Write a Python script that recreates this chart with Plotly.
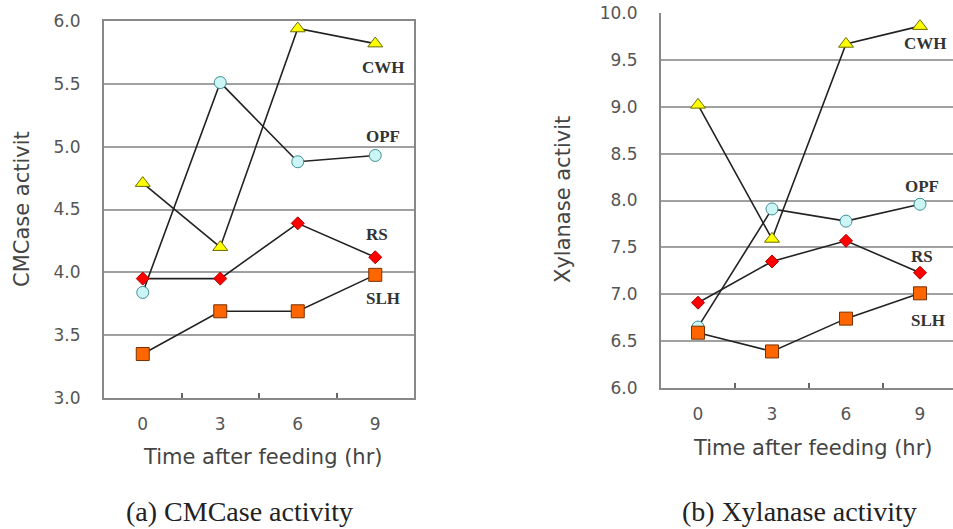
import plotly.graph_objects as go

times = ["0", "3", "6", "9"]
pos = [0, 1, 2, 3]

# (a) CMCase activity
cmc_cwh = [4.71, 4.20, 5.94, 5.82]
cmc_opf = [3.84, 5.51, 4.88, 4.93]
cmc_rs = [3.95, 3.95, 4.39, 4.12]
cmc_slh = [3.35, 3.69, 3.69, 3.98]

# (b) Xylanase activity
xyl_cwh = [9.02, 7.59, 9.67, 9.86]
xyl_opf = [6.65, 7.91, 7.78, 7.96]
xyl_rs = [6.91, 7.35, 7.57, 7.23]
xyl_slh = [6.59, 6.39, 6.74, 7.01]

series_names = ["CWH", "OPF", "RS", "SLH"]
styles = {
    "CWH": dict(symbol="triangle-up", size=13, color="#FFFF00", line=dict(color="#6b6b00", width=1)),
    "OPF": dict(symbol="circle", size=12, color="#CCF5F5", line=dict(color="#3f8f96", width=1)),
    "RS": dict(symbol="diamond", size=10, color="#FF0000", line=dict(color="#b00000", width=1)),
    "SLH": dict(symbol="square", size=13, color="#FF6600", line=dict(color="#7a3000", width=1)),
}

fig = go.Figure()
left = {"CWH": cmc_cwh, "OPF": cmc_opf, "RS": cmc_rs, "SLH": cmc_slh}
right = {"CWH": xyl_cwh, "OPF": xyl_opf, "RS": xyl_rs, "SLH": xyl_slh}
for name in series_names:
    fig.add_trace(go.Scatter(x=pos, y=left[name], mode="lines+markers", name=name,
                             line=dict(color="#222222", width=1.6),
                             marker=styles[name], xaxis="x", yaxis="y", showlegend=False))
for name in series_names:
    fig.add_trace(go.Scatter(x=pos, y=right[name], mode="lines+markers", name=name,
                             line=dict(color="#222222", width=1.6),
                             marker=styles[name], xaxis="x2", yaxis="y2", showlegend=False))

tickfont = dict(family="DejaVu Sans", size=17, color="#555555")
common_x = dict(tickmode="array", tickvals=pos, ticktext=times, ticks="", showgrid=False,
                zeroline=False, showline=True, linecolor="#888888", linewidth=2,
                tickfont=tickfont, ticklabelstandoff=10, automargin=False,
                minor=dict(tickvals=[0.5, 1.5, 2.5], ticks="inside", ticklen=5,
                           tickcolor="#666666", tickwidth=1.5))
common_y = dict(dtick=0.5, tickformat=".1f", showgrid=True, gridcolor="#a0a0a0", gridwidth=1.5,
                zeroline=False, showline=True, linecolor="#888888", linewidth=2,
                ticks="", tickfont=tickfont, ticklabelstandoff=18, automargin=False)

fig.update_layout(
    width=953, height=529, margin=dict(l=0, r=0, t=0, b=0, autoexpand=False),
    paper_bgcolor="white", plot_bgcolor="white",
    xaxis=dict(domain=[104 / 953, 414 / 953], range=[-0.5, 3.5], mirror=True, anchor="y", **common_x),
    yaxis=dict(domain=[1 - 398 / 529, 1 - 21 / 529], range=[3.0, 6.0], mirror=True, anchor="x", **common_y),
    xaxis2=dict(domain=[661 / 953, 1.0], range=[-0.5, 3.446], anchor="y2", **common_x),
    yaxis2=dict(domain=[1 - 388 / 529, 1 - 13 / 529], range=[6.0, 10.0], anchor="x2", **common_y),
)

lab_font = dict(family="Liberation Serif", size=17, color="#333333")
left_labels = [("CWH", 3.10, 5.63), ("OPF", 3.10, 5.08), ("RS", 3.02, 4.30), ("SLH", 3.10, 3.79)]
right_labels = [("CWH", 3.07, 9.68), ("OPF", 3.03, 8.15), ("RS", 3.03, 7.40), ("SLH", 3.11, 6.72)]
for t, x, y in left_labels:
    fig.add_annotation(text="<b>%s</b>" % t, x=x, y=y, xref="x", yref="y", showarrow=False, font=lab_font,
                       xanchor="center", yanchor="middle")
for t, x, y in right_labels:
    fig.add_annotation(text="<b>%s</b>" % t, x=x, y=y, xref="x2", yref="y2", showarrow=False, font=lab_font,
                       xanchor="center", yanchor="middle")

title_font = dict(family="DejaVu Sans", size=21, color="#444444")
cap_font = dict(family="Liberation Serif", size=28, color="#222222")

def px_x(p):
    return p / 953

def px_y(p):
    return 1 - p / 529

def note(text, x, y, font, angle=0):
    fig.add_annotation(text=text, x=px_x(x), y=px_y(y), xref="paper", yref="paper",
                       textangle=angle, showarrow=False, font=font,
                       xanchor="center", yanchor="middle")

note("CMCase activit", 22, 209, title_font, -90)
note("Xylanase activit", 563, 200, title_font, -90)
note("Time after feeding (hr)", 262, 457, title_font)
note("Time after feeding (hr)", 812, 448, title_font)
note("(a) CMCase activity", 239, 511, cap_font)
note("(b) Xylanase activity", 799, 511, cap_font)

fig.write_html("out.html")
